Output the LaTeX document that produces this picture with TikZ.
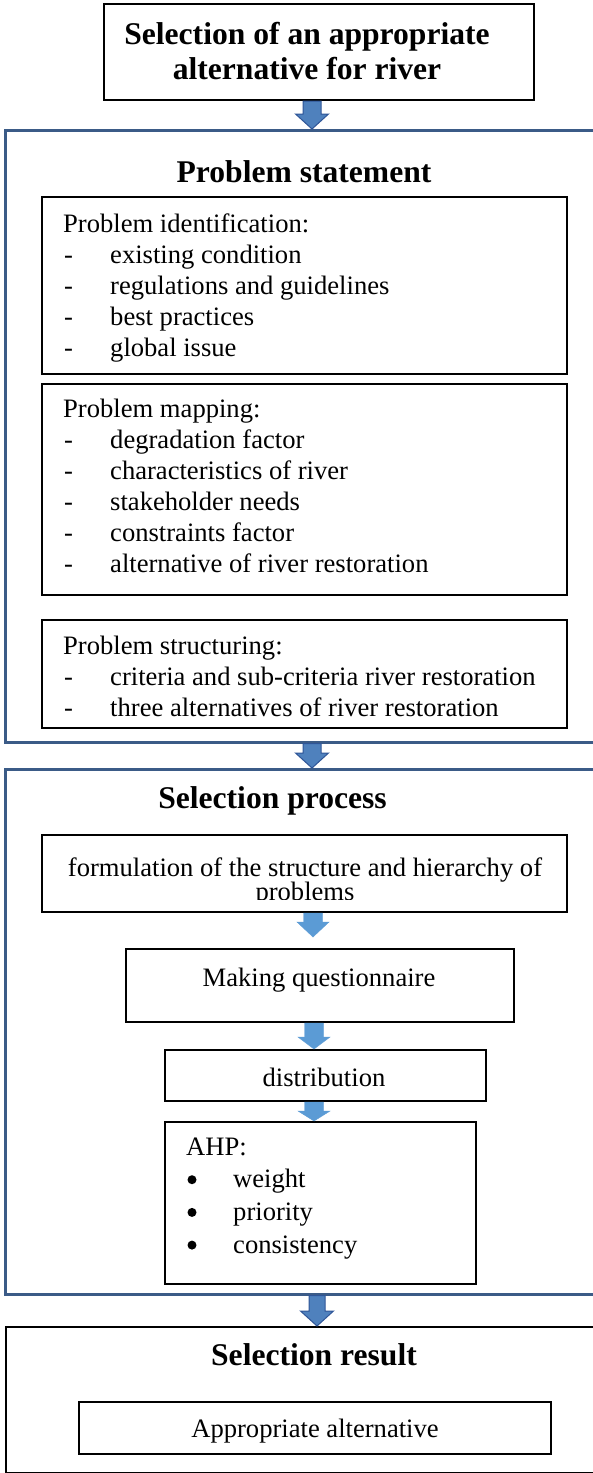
\documentclass[tikz,border=0pt]{standalone}
\usepackage{fontspec}
\setmainfont{Liberation Serif}
\usetikzlibrary{calc}
\definecolor{frameblue}{HTML}{3B5B87}
\definecolor{arrdark}{HTML}{4F81BD}
\definecolor{arrdarkline}{HTML}{2F5597}
\definecolor{arrlight}{HTML}{5B9BD5}
\tikzset{
  box/.style={draw=black, line width=2pt, inner sep=0pt, anchor=north west, fill=white},
  frameblk/.style={draw=frameblue, line width=2.5pt, inner sep=0pt, anchor=north west},
  resframe/.style={draw=black, line width=2pt, inner sep=0pt, anchor=north west},
  headtxt/.style={font=\fontsize{31.6}{36}\selectfont\bfseries, inner sep=0pt, anchor=base},
  txt/.style={font=\fontsize{26.6}{31}\selectfont, inner sep=0pt, anchor=base west},
  ctxt/.style={txt, anchor=base},
  bulletdot/.style={circle, fill=black, inner sep=0pt, minimum size=9pt},
  darr/.style={fill=arrdark, draw=arrdarkline, line width=1pt, line join=miter},
  larr/.style={fill=arrlight, draw=arrlight, line width=0.4pt},
}
% block arrow: style, x, from, to, shaft half width, head half width, head length
\newcommand{\blockarrow}[7]{%
  \draw[#1] let \p1=(#3), \p2=(#4) in
    (#2pt-#5pt,\y1) -- (#2pt+#5pt,\y1) -- (#2pt+#5pt,\y2+#7pt) -- (#2pt+#6pt,\y2+#7pt)
    -- (#2pt,\y2) -- (#2pt-#6pt,\y2+#7pt) -- (#2pt-#5pt,\y2+#7pt) -- cycle;}

\begin{document}
\begin{tikzpicture}[x=1pt,y=-1pt]
\useasboundingbox (0,0) rectangle (592,1473);
\fill[white] (0,0) rectangle (592,1473);

% outer frames
\node[frameblk, minimum width=588.8pt, minimum height=612pt] (ps) at (4,129) {};
\node[frameblk, minimum width=588.8pt, minimum height=525pt] (sp) at (4,768) {};
\node[resframe, minimum width=587.5pt, minimum height=146pt] (sr) at (5,1326) {};

% top box
\node[box, minimum width=430pt, minimum height=96pt] (topbox) at (103,3) {};
\node[headtxt] (title1) at (307,44) {Selection of an appropriate};
\node[headtxt] (title2) at (307,79) {alternative for river};

% Problem statement
\node[headtxt] (psh) at (304,182) {Problem statement};
\node[box, minimum width=525pt, minimum height=177pt] (ident) at (41,196) {};
\node[box, minimum width=525pt, minimum height=211pt] (map) at (41,383) {};
\node[box, minimum width=525pt, minimum height=108pt] (struct) at (41,619) {};

\node[txt] (identh) at (63,232) {Problem identification:};
\foreach \t [count=\k] in {existing condition, regulations and  guidelines, best practices, global issue}{
  \node[txt] (identd\k) at (64,232+31*\k) {-};
  \node[txt] (identi\k) at (110,232+31*\k) {\t};
}
\node[txt] (maph) at (63,417) {Problem mapping:};
\foreach \t [count=\k] in {degradation factor, characteristics of river, stakeholder needs, constraints factor, alternative of river restoration}{
  \node[txt] (mapd\k) at (64,417+31*\k) {-};
  \node[txt] (mapi\k) at (110,417+31*\k) {\t};
}
\node[txt] (structh) at (63,654) {Problem structuring:};
\foreach \t [count=\k] in {criteria and sub-criteria river restoration, three alternatives of river restoration}{
  \node[txt] (structd\k) at (64,654+31*\k) {-};
  \node[txt] (structi\k) at (110,654+31*\k) {\t};
}

% Selection process
\node[headtxt] (sph) at (272.5,808) {Selection process};
\node[box, minimum width=525pt, minimum height=77pt] (form) at (41,834) {};
\begin{scope}
  \clip (41,834) rectangle (566,899);
  \node[ctxt] (form1) at (305,876) {formulation of the structure and hierarchy of};
  \node[ctxt] (form2) at (305,900) {problems};
\end{scope}
\node[box, minimum width=388pt, minimum height=73pt] (make) at (125,948) {};
\node[ctxt] (maket) at (319,986) {Making questionnaire};
\node[box, minimum width=321pt, minimum height=51pt] (dist) at (164,1049) {};
\node[ctxt] (distt) at (324,1086) {distribution};
\node[box, minimum width=311pt, minimum height=162pt] (ahp) at (164,1121) {};
\node[txt] (ahph) at (186,1155) {AHP:};
\foreach \t [count=\k] in {weight, priority, consistency}{
  \node[bulletdot] (ahpb\k) at (192,1147+32.7*\k) {};
  \node[txt] (ahpi\k) at (233,1155+32.7*\k) {\t};
}

% Selection result
\node[headtxt] (srh) at (314,1365) {Selection result};
\node[box, minimum width=472pt, minimum height=52pt] (appr) at (78,1401) {};
\node[ctxt] (apprt) at (315,1437) {Appropriate alternative};

% arrows
\coordinate (t3) at (313,937);
\blockarrow{darr}{312}{topbox.south}{ps.north}{9}{16.5}{15}
\blockarrow{darr}{312}{ps.south}{sp.north}{9}{16.5}{15}
\blockarrow{larr}{313}{form.south}{t3}{9.5}{16}{15}
\blockarrow{larr}{314}{make.south}{dist.north}{9.5}{16}{12}
\blockarrow{larr}{314}{dist.south}{ahp.north}{9.5}{16}{10}
\blockarrow{darr}{317}{sp.south}{sr.north}{8}{16.5}{15}
\end{tikzpicture}
\end{document}
